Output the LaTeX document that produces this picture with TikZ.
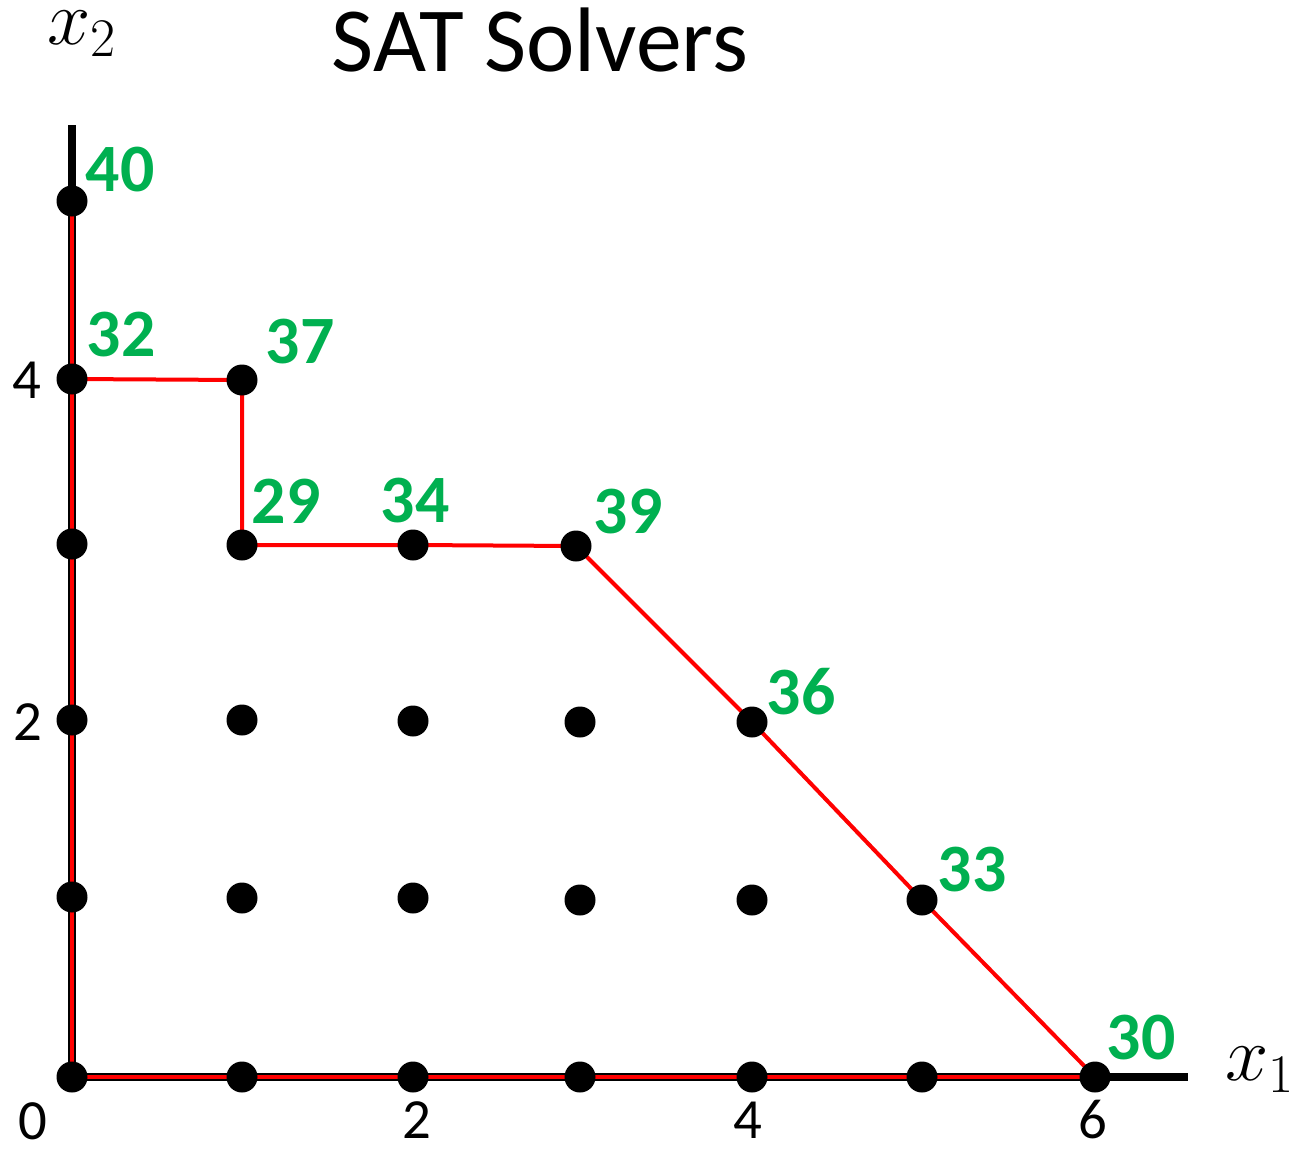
\documentclass[tikz,border=0pt]{standalone}
\usepackage{fix-cm}
\usepackage{fontspec}
\setmainfont{Carlito}
\usetikzlibrary{backgrounds}
\definecolor{lblgreen}{RGB}{0,176,80}
\definecolor{pathred}{RGB}{255,0,0}
\tikzset{
  dot/.style={circle,fill=black,minimum size=31bp,inner sep=0pt},
  axisline/.style={line width=8bp,black},
  redpath/.style={line width=4bp,pathred},
  val/.style={text=lblgreen,font=\fontsize{68}{68}\selectfont\bfseries,inner sep=0pt},
  ticklbl/.style={font=\fontsize{57}{57}\selectfont,inner sep=0pt},
  axlabel/.style={font=\fontsize{78}{78}\selectfont,inner sep=0pt},
  titlestyle/.style={font=\fontsize{92}{92}\selectfont,inner sep=0pt},
}
\begin{document}
\begin{tikzpicture}[x=1bp,y=-1bp]
\useasboundingbox (0,0) rectangle (1294,1150);
% axis end points
\coordinate (ytop) at (72,125);
\coordinate (xend) at (1188,1077);
% dots
\node[dot] (a0) at (72,1077) {};
\node[dot] (a1) at (72,897) {};
\node[dot] (a2) at (72,720) {};
\node[dot] (a3) at (72,544) {};
\node[dot] (a4) at (72,379) {};
\node[dot] (a5) at (72,201) {};
\node[dot] (b0) at (242,1077) {};
\node[dot] (b1) at (242,898) {};
\node[dot] (b2) at (242,720) {};
\node[dot] (b3) at (242,545) {};
\node[dot] (b4) at (242,380) {};
\node[dot] (c0) at (413,1077) {};
\node[dot] (c1) at (413,898) {};
\node[dot] (c2) at (413,721) {};
\node[dot] (c3) at (413,545) {};
\node[dot] (d0) at (580,1077) {};
\node[dot] (d1) at (580,900) {};
\node[dot] (d2) at (580,722) {};
\node[dot] (d3) at (576,546) {};
\node[dot] (e0) at (752,1077) {};
\node[dot] (e1) at (752,900) {};
\node[dot] (e2) at (752,722) {};
\node[dot] (f0) at (922,1077) {};
\node[dot] (f1) at (922,900) {};
\node[dot] (g0) at (1095,1077) {};
% lines behind dots
\begin{scope}[on background layer]
  \draw[axisline] (ytop) -- (a0.center) -- (xend);
  \draw[redpath] (a0.center) -- (a5.center);
  \draw[redpath] (a0.center) -- (g0.center);
  \draw[redpath] (a4.center) -- (b4.center) -- (b3.center) -- (c3.center) -- (d3.center)
     -- (e2.center) -- (f1.center) -- (g0.center);
\end{scope}
% values
\node[val] (v40) at (120,170) {40};
\node[val] (v32) at (121,335) {32};
\node[val] (v37) at (300,342) {37};
\node[val] (v29) at (286,501) {29};
\node[val] (v34) at (415,501) {34};
\node[val] (v39) at (628,512) {39};
\node[val] (v36) at (801,692) {36};
\node[val] (v33) at (972,870) {33};
\node[val] (v30) at (1141,1038) {30};
% tick labels
\node[ticklbl] (t4y) at (27,380) {4};
\node[ticklbl] (t2y) at (28,722) {2};
\node[ticklbl] (t0) at (33,1121) {0};
\node[ticklbl] (t2x) at (417,1120) {2};
\node[ticklbl] (t4x) at (748,1120) {4};
\node[ticklbl] (t6x) at (1093,1120) {6};
% axis labels
\node[axlabel] (lx2) at (82,34) {$x_2$};
\node[axlabel] (lx1) at (1260,1070) {$x_1$};
% title
\node[titlestyle] (title) at (540,40) {SAT Solvers};
\end{tikzpicture}
\end{document}
